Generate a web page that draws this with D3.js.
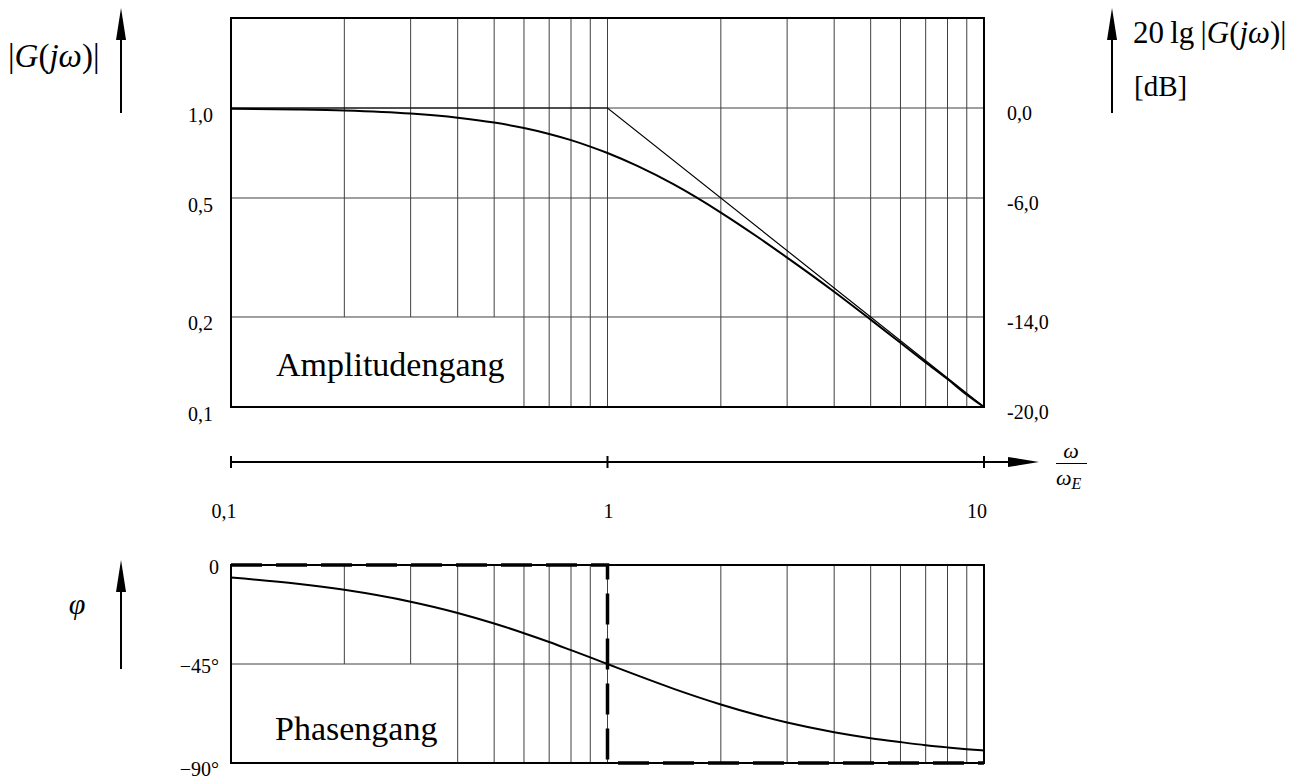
<!DOCTYPE html>
<meta charset="utf-8">
<style>

body { margin: 0; background: #fff; }

svg text { fill: #000; }

.grid line { stroke: #404040; stroke-width: 1; }

.frame { fill: none; stroke: #000; stroke-width: 2; }

</style>
<body>

<script src="https://d3js.org/d3.v7.min.js"></script>

<script>

// frequency points (omega / omega_E)
var omega     = [0.1, 0.15, 0.2, 0.3, 0.4, 0.5, 0.6, 0.7, 0.8, 0.9, 1, 1.2, 1.5, 2, 2.5, 3, 4, 5, 6, 7, 8, 9, 10];
var amplitude = [0.995, 0.989, 0.981, 0.958, 0.928, 0.894, 0.857, 0.819, 0.781, 0.743, 0.707, 0.64, 0.555, 0.447, 0.371, 0.316, 0.243, 0.196, 0.164, 0.141, 0.124, 0.11, 0.1];
var phase     = [-5.7, -8.5, -11.3, -16.7, -21.8, -26.6, -31, -35, -38.7, -42, -45, -50.2, -56.3, -63.4, -68.2, -71.6, -76, -78.7, -80.5, -81.9, -82.9, -83.7, -84.3];

// asymptotes
var ampAsymW   = [0.1, 1, 10];
var ampAsymV   = [1, 1, 0.1];
var phaseAsymW = [0.1, 1, 1, 10];
var phaseAsymV = [0, 0, -90, -90];

// grid and ticks
var gridX       = [0.2, 0.3, 0.4, 0.5, 0.6, 0.7, 0.8, 0.9, 1, 2, 3, 4, 5, 6, 7, 8, 9];
var ampGridY    = [0.2, 0.5, 1];
var phaseGridY  = [-45];
var ampTicks    = [1, 0.5, 0.2, 0.1];
var ampLabels   = ["1,0", "0,5", "0,2", "0,1"];
var dbTicks     = [0, -6, -14, -20];
var dbLabels    = ["0,0", "-6,0", "-14,0", "-20,0"];
var phaseTicks  = [0, -45, -90];
var phaseLabels = ["0", "\u221245\u00b0", "\u221290\u00b0"];
var freqTicks   = [0.1, 1, 10];
var freqLabels  = ["0,1", "1", "10"];

var width = 1315, height = 782;

var svg = d3.select("body").append("svg")
    .attr("width", width)
    .attr("height", height)
    .attr("font-family", "'Liberation Serif', 'Times New Roman', serif");

// scales
var x = d3.scaleLog().domain([0.1, 10]).range([231, 984]);
var yAmp = d3.scaleLog().domain([0.1, 2]).range([407, 18]);
var yDb = d3.scaleLinear().domain([-20, 20 * Math.log10(2)]).range([407, 18]);
var yPh = d3.scaleLinear().domain([-90, 0]).range([763, 565]);

// ---------- amplitude panel ----------
var gA = svg.append("g").attr("class", "grid");

gA.selectAll("line.v").data(gridX).enter().append("line")
    .attr("x1", function(d) { return x(d); })
    .attr("x2", function(d) { return x(d); })
    .attr("y1", yAmp(2))
    .attr("y2", function(d) { return d < 0.55 ? yAmp(0.2) : yAmp(0.1); });

gA.selectAll("line.h").data(ampGridY).enter().append("line")
    .attr("x1", x(0.1)).attr("x2", x(10))
    .attr("y1", function(d) { return yAmp(d); })
    .attr("y2", function(d) { return yAmp(d); });

svg.append("path")
    .datum(d3.zip(ampAsymW, ampAsymV))
    .attr("fill", "none").attr("stroke", "#000").attr("stroke-width", 1.2)
    .attr("d", d3.line().x(function(d) { return x(d[0]); }).y(function(d) { return yAmp(d[1]); }));

svg.append("path")
    .datum(d3.zip(omega, amplitude))
    .attr("fill", "none").attr("stroke", "#000").attr("stroke-width", 2)
    .attr("d", d3.line().curve(d3.curveMonotoneX)
        .x(function(d) { return x(d[0]); }).y(function(d) { return yAmp(d[1]); }));

svg.append("rect").attr("class", "frame")
    .attr("x", x(0.1)).attr("y", yAmp(2))
    .attr("width", x(10) - x(0.1)).attr("height", yAmp(0.1) - yAmp(2));

svg.selectAll("text.amp").data(ampTicks).enter().append("text")
    .attr("text-anchor", "end")
    .attr("font-size", 20)
    .attr("x", 213)
    .attr("y", function(d) { return yAmp(d) + 13.5; })
    .text(function(d, i) { return ampLabels[i]; });

svg.selectAll("text.db").data(dbTicks).enter().append("text")
    .attr("font-size", 20)
    .attr("x", 1007)
    .attr("y", function(d) { return yDb(d) + 12; })
    .text(function(d, i) { return dbLabels[i]; });

svg.append("text")
    .attr("x", 276).attr("y", 376)
    .attr("font-size", 34)
    .text("Amplitudengang");

// ---------- frequency axis ----------
var axisY = 462;
svg.append("line")
    .attr("x1", x(0.1)).attr("x2", 1012)
    .attr("y1", axisY).attr("y2", axisY)
    .attr("stroke", "#000").attr("stroke-width", 2);
svg.append("path")
    .attr("d", "M1008," + (axisY - 5) + "L1039," + axisY + "L1008," + (axisY + 5) + "Z")
    .attr("fill", "#000");

svg.selectAll("line.ftick").data(freqTicks).enter().append("line")
    .attr("x1", function(d) { return x(d); })
    .attr("x2", function(d) { return x(d); })
    .attr("y1", axisY - 6).attr("y2", axisY + 6)
    .attr("stroke", "#000").attr("stroke-width", 2);

svg.selectAll("text.ftick").data(freqTicks).enter().append("text")
    .attr("text-anchor", "middle")
    .attr("font-size", 20)
    .attr("x", function(d) { return x(d) + (d === 1 ? 1 : -7); })
    .attr("y", 518)
    .text(function(d, i) { return freqLabels[i]; });

// omega / omega_E
svg.append("text")
    .attr("x", 1071).attr("y", 458)
    .attr("text-anchor", "middle")
    .attr("font-size", 22).attr("font-style", "italic")
    .text("\u03c9");
svg.append("line")
    .attr("x1", 1056).attr("x2", 1087)
    .attr("y1", 463.5).attr("y2", 463.5)
    .attr("stroke", "#000").attr("stroke-width", 1);
var wE = svg.append("text")
    .attr("x", 1056).attr("y", 485)
    .attr("font-size", 22).attr("font-style", "italic");
wE.append("tspan").text("\u03c9");
wE.append("tspan").attr("font-size", 16).attr("dy", 4).text("E");

// ---------- phase panel ----------
var gP = svg.append("g").attr("class", "grid");

gP.selectAll("line.v").data(gridX).enter().append("line")
    .attr("x1", function(d) { return x(d); })
    .attr("x2", function(d) { return x(d); })
    .attr("y1", yPh(0))
    .attr("y2", function(d) { return d < 0.35 ? yPh(-45) : yPh(-90); });

gP.selectAll("line.h").data(phaseGridY).enter().append("line")
    .attr("x1", x(0.1)).attr("x2", x(10))
    .attr("y1", function(d) { return yPh(d); })
    .attr("y2", function(d) { return yPh(d); });

svg.append("rect").attr("class", "frame")
    .attr("x", x(0.1)).attr("y", yPh(0))
    .attr("width", x(10) - x(0.1)).attr("height", yPh(-90) - yPh(0));

svg.append("path")
    .datum(d3.zip(phaseAsymW, phaseAsymV))
    .attr("fill", "none").attr("stroke", "#000").attr("stroke-width", 3.5)
    .attr("stroke-dasharray", "31,14")
    .attr("d", d3.line().x(function(d) { return x(d[0]); }).y(function(d) { return yPh(d[1]); }));

svg.append("path")
    .datum(d3.zip(omega, phase))
    .attr("fill", "none").attr("stroke", "#000").attr("stroke-width", 2)
    .attr("d", d3.line().curve(d3.curveMonotoneX)
        .x(function(d) { return x(d[0]); }).y(function(d) { return yPh(d[1]); }));

svg.selectAll("text.ph").data(phaseTicks).enter().append("text")
    .attr("text-anchor", "end")
    .attr("font-size", 20)
    .attr("x", 219)
    .attr("y", function(d) { return yPh(d) + (d === -90 ? 13 : 9); })
    .text(function(d, i) { return phaseLabels[i]; });

svg.append("text")
    .attr("x", 275).attr("y", 740)
    .attr("font-size", 34)
    .text("Phasengang");

// ---------- axis titles with arrows ----------
function upArrow(ax, yTop, yBottom) {
    svg.append("line")
        .attr("x1", ax).attr("x2", ax)
        .attr("y1", yTop + 20).attr("y2", yBottom)
        .attr("stroke", "#000").attr("stroke-width", 2);
    svg.append("path")
        .attr("d", "M" + (ax - 5) + "," + (yTop + 32) + "L" + ax + "," + yTop + "L" + (ax + 5) + "," + (yTop + 32) + "Z")
        .attr("fill", "#000");
}

upArrow(121, 8, 113);
upArrow(1112, 8, 113);
upArrow(121, 560, 669);

var gl = svg.append("text")
    .attr("x", 8).attr("y", 67)
    .attr("font-size", 33);
gl.append("tspan").text("|");
gl.append("tspan").attr("font-style", "italic").text("G");
gl.append("tspan").text("(");
gl.append("tspan").attr("font-style", "italic").text("j\u03c9");
gl.append("tspan").text(")|");

var gr = svg.append("text")
    .attr("x", 1133).attr("y", 43)
    .attr("font-size", 31);
gr.append("tspan").text("20\u2009lg\u2009|");
gr.append("tspan").attr("font-style", "italic").text("G");
gr.append("tspan").text("(");
gr.append("tspan").attr("font-style", "italic").text("j\u03c9");
gr.append("tspan").text(")|");

svg.append("text")
    .attr("x", 1134).attr("y", 96)
    .attr("font-size", 29)
    .text("[dB]");

svg.append("text")
    .attr("x", 77).attr("y", 614)
    .attr("text-anchor", "middle")
    .attr("font-size", 30).attr("font-style", "italic")
    .text("\u03c6");

</script>
</body>
